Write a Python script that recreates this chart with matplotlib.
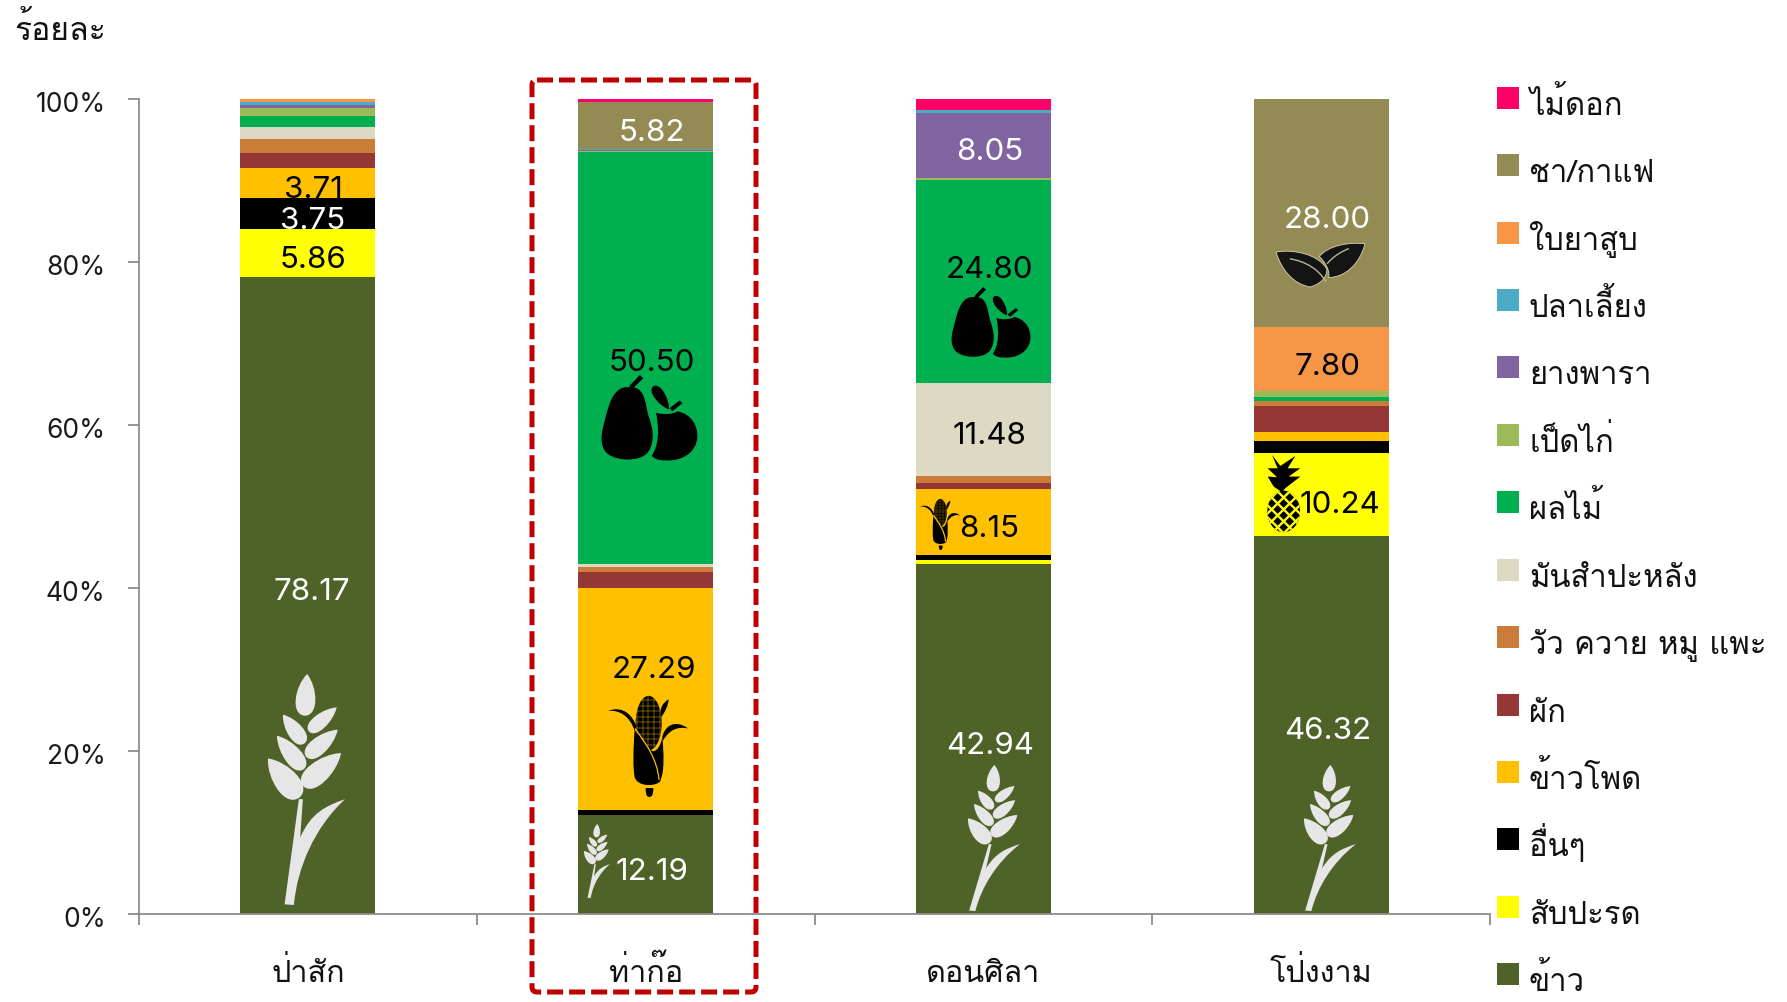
import matplotlib
matplotlib.use('Agg')
import logging
logging.getLogger('matplotlib.font_manager').setLevel(logging.ERROR)
import matplotlib.pyplot as plt
import numpy as np
from matplotlib.path import Path
from matplotlib.patches import PathPatch, Rectangle, Ellipse, FancyBboxPatch
from matplotlib.transforms import ScaledTranslation

THAI = ['Loma', 'Noto Sans Thai Looped', 'DejaVu Sans']
NUM = ['Inter', 'Liberation Sans', 'DejaVu Sans']

# ---- data ----
districts = ['ป่าสัก', 'ท่าก๊อ', 'ดอนศิลา', 'โป่งงาม']
series_names = ['ข้าว', 'สับปะรด', 'อื่นๆ', 'ข้าวโพด', 'ผัก', 'วัว ควาย หมู แพะ', 'มันสำปะหลัง',
                'ผลไม้', 'เป็ดไก่', 'ยางพารา', 'ปลาเลี้ยง', 'ใบยาสูบ', 'ชา/กาแฟ', 'ไม้ดอก']
series_colors = ['#4F6228', '#FFFF00', '#000000', '#FFC000', '#953735', '#CB7B3A', '#DDD9C3',
                 '#00B050', '#9BBB59', '#8064A2', '#4BACC6', '#F79646', '#948A54', '#FF0066']
rice      = [78.17, 12.19, 42.94, 46.32]
pineapple = [5.86, 0.00, 0.50, 10.24]
others    = [3.75, 0.53, 0.55, 1.40]
corn      = [3.71, 27.29, 8.15, 1.10]
veg       = [1.84, 1.88, 0.65, 3.23]
livestock = [1.76, 0.60, 0.90, 0.65]
cassava   = [1.47, 0.45, 11.48, 0.00]
fruit     = [1.30, 50.50, 24.80, 0.45]
poultry   = [0.94, 0.10, 0.25, 0.74]
rubber    = [0.40, 0.10, 8.05, 0.00]
fish      = [0.40, 0.14, 0.30, 0.00]
tobacco   = [0.40, 0.00, 0.03, 7.80]
tea       = [0.00, 5.82, 0.00, 28.00]
flowers   = [0.00, 0.30, 1.40, 0.07]
values = [rice, pineapple, others, corn, veg, livestock, cassava, fruit,
          poultry, rubber, fish, tobacco, tea, flowers]
yticks = [0, 20, 40, 60, 80, 100]

W, H = 1787, 1003
fig = plt.figure(figsize=(W / 100, H / 100), dpi=100, facecolor='white')
L, R, B, T = 139, 1490, 915, 99.5
ax = fig.add_axes([L / W, 1 - B / H, (R - L) / W, (B - T) / H])
x = np.arange(len(districts))
bottom = np.zeros(len(districts))
for name, vals, col in zip(series_names, values, series_colors):
    ax.bar(x, vals, 0.4, bottom=bottom, color=col, label=name, linewidth=0)
    bottom += np.array(vals)
ax.set_xlim(-0.5, 3.5)
ax.set_ylim(0, 100)
for s in ('top', 'right'):
    ax.spines[s].set_visible(False)
for s in ('left', 'bottom'):
    ax.spines[s].set_color('#8C8C8C')
    ax.spines[s].set_linewidth(1.3)
ax.set_yticks(yticks)
ax.set_yticklabels([f'{v}%' for v in yticks], family=NUM, fontsize=19, color='#1A1A1A')
ax.set_xticks(np.arange(-0.5, 4, 1))
ax.set_xticklabels([])
ax.set_xticks(x, minor=True)
ax.set_xticklabels(districts, minor=True, family=THAI, fontsize=22, color='#111111', va='baseline')
ax.tick_params(axis='both', which='major', length=8, width=1.3, color='#8C8C8C')
ax.tick_params(axis='y', pad=16)
ax.tick_params(axis='x', which='minor', length=0, pad=48)
down2 = ScaledTranslation(0, -2.5 / 100, fig.dpi_scale_trans)
for lab in ax.get_yticklabels():
    lab.set_transform(lab.get_transform() + down2)

# overlay in pixel coordinates
ov = fig.add_axes([0, 0, 1, 1], facecolor='none')
ov.set_xlim(0, W)
ov.set_ylim(H, 0)
ov.axis('off')

ov.text(14, 30, 'ร้อยละ', family=THAI, fontsize=23, color='#111111', va='center', ha='left')

# value labels: (series, district, centre px, colour)
labels = [(0, 0, 312, 592, 'white'), (1, 0, 313, 260, 'black'), (2, 0, 313, 221, 'white'), (3, 0, 313, 190, 'black'),
          (12, 1, 652, 133, 'white'), (7, 1, 652, 363, 'black'), (3, 1, 654, 670, 'black'), (0, 1, 652, 872, 'white'),
          (9, 2, 990, 152, 'white'), (7, 2, 989, 270, 'black'), (6, 2, 989, 436, 'black'), (3, 2, 989, 529, 'black'), (0, 2, 990, 746, 'white'),
          (12, 3, 1327, 220, 'white'), (11, 3, 1328, 367, 'black'), (1, 3, 1340, 505, 'black'), (0, 3, 1328, 731, 'white')]
for s, d, px, py, c in labels:
    ov.text(px, py, f'{values[s][d]:.2f}', family=NUM, fontsize=22.5, color=c, ha='center', va='center', zorder=6)

# legend
leg_tops = [88, 155, 223, 290, 357, 425, 492, 560, 627, 695, 762, 829, 897, 964]
for top, i in zip(leg_tops, range(len(series_names) - 1, -1, -1)):
    ov.add_patch(Rectangle((1497, top), 22, 22, facecolor=series_colors[i], edgecolor='none'))
    ov.text(1529, top + 27, series_names[i], family=THAI, fontsize=22.3, color='#111111', va='baseline', ha='left')

# highlight frame
ov.add_patch(FancyBboxPatch((536, 85), 216, 904, boxstyle='round,pad=4,rounding_size=5', fill=False,
                            edgecolor='#C00000', linewidth=3.6, linestyle=(0, (3.2, 1.2)), zorder=7))

# ---- icon helpers ----
def mapper(src, dst):
    sx0, sy0, sx1, sy1 = src
    dx0, dy0, dx1, dy1 = dst
    def f(p):
        p = np.asarray(p, float)
        return np.c_[dx0 + (p[:, 0] - sx0) / (sx1 - sx0) * (dx1 - dx0),
                     dy0 + (p[:, 1] - sy0) / (sy1 - sy0) * (dy1 - dy0)]
    return f

def bez(start, *curves):
    verts = [start]; codes = [Path.MOVETO]
    for c in curves:
        if len(c) == 3:
            verts += list(c); codes += [Path.CURVE4] * 3
        else:
            verts += [c[0]]; codes += [Path.LINETO]
    verts.append(start); codes.append(Path.CLOSEPOLY)
    return verts, codes

def draw(m, shape, color, z=5, **kw):
    v, c = shape
    pat = PathPatch(Path(m(v), c), facecolor=color, edgecolor=kw.pop('edgecolor', 'none'), zorder=z, **kw)
    ov.add_patch(pat)
    return pat

def tear(Tp, Bp, w):
    Tp = np.array(Tp, float); Bp = np.array(Bp, float)
    d = Bp - Tp
    n = np.array([-d[1], d[0]]) / np.hypot(*d)
    return bez(tuple(Tp),
               (tuple(Tp + .3 * d + .55 * w * n), tuple(Bp - .02 * d + .72 * w * n), tuple(Bp)),
               (tuple(Bp - .02 * d - .72 * w * n), tuple(Tp + .3 * d - .55 * w * n), tuple(Tp)))

def stroke(m, pts, color, lw, z):
    v = list(pts)
    c = [Path.MOVETO] + [Path.CURVE4] * (len(v) - 1)
    ov.add_patch(PathPatch(Path(m(v), c), fill=False, edgecolor=color, linewidth=lw, zorder=z, capstyle='round'))

def wheat(box, lean=0, color='#E6E6E6'):
    m = mapper((40, 30, 272, 722), box)
    grains = [((158, 30), (150, 155), 62), ((247, 130), (163, 202), 46), ((85, 152), (150, 238), 50),
              ((250, 197), (155, 278), 54), ((67, 215), (148, 315), 56), ((260, 267), (145, 365), 68),
              ((40, 283), (135, 400), 76)]
    for g in grains:
        draw(m, tear(*g), color)
    def lx(px, py):
        return (px - lean * max(py - 405, 0) / 317, py)
    draw(m, bez(lx(133, 405), [lx(145, 405)], [lx(137, 520)],
                (lx(170, 445), lx(215, 425), (272, 405)),
                (lx(180, 490), lx(128, 610), lx(118, 722)),
                [lx(90, 720)]), color)

def corn_icon(box, bg='#FFC000'):
    m = mapper((265, 470, 505, 775), box)
    scale = (box[2] - box[0]) / 240
    cc = m([(387, 552)])[0]
    cob = Ellipse(cc, 78 * scale, 165 * (box[3] - box[1]) / 305, facecolor='black', edgecolor='none', zorder=5)
    ov.add_patch(cob)
    for gx in np.arange(352, 425, 17):
        p = m([(gx, 470), (gx, 635)])
        ln, = ov.plot(p[:, 0], p[:, 1], color=bg, lw=0.95 * scale, zorder=5.1)
        ln.set_clip_path(cob)
    for gy in np.arange(482, 635, 17):
        p = m([(340, gy), (430, gy)])
        ln, = ov.plot(p[:, 0], p[:, 1], color=bg, lw=0.95 * scale, zorder=5.1)
        ln.set_clip_path(cob)
    draw(m, bez((345, 570), ((340, 640), (340, 690), (345, 715)), ((352, 742), (400, 745), (420, 730)),
                ((436, 700), (432, 640), (428, 590)), ((425, 620), (410, 640), (397, 636)),
                ((375, 620), (355, 590), (345, 570))), 'black', z=5.2)
    stroke(m, [(347, 570), (380, 615), (412, 660), (418, 722)], bg, 1.6 * max(scale, .55), 5.3)
    draw(m, bez((350, 562), ((340, 530), (310, 497), (265, 515)), ((300, 512), (330, 530), (345, 575))), 'black')
    draw(m, bez((428, 592), ((440, 550), (475, 545), (505, 568)), ((475, 562), (450, 570), (430, 605))), 'black')
    draw(m, bez((422, 532), ((420, 505), (430, 490), (447, 480)), ((445, 500), (438, 515), (424, 535))), 'black')
    draw(m, bez((378, 748), [(401, 748)], ((401, 765), (398, 775), (389, 775)), ((380, 775), (378, 765), (378, 748))), 'black')

def fruit_icon(box):
    m = mapper((38, 28, 322, 288), box)
    draw(m, bez((118, 65), ((75, 60), (60, 110), (50, 150)), ((40, 190), (28, 225), (45, 255)),
                ((62, 288), (150, 296), (175, 260)), ((195, 230), (190, 190), (175, 150)),
                ((165, 110), (165, 60), (118, 65))), 'black')
    draw(m, bez((118, 62), [(150, 28)], [(160, 38)], [(128, 70)]), 'black')
    draw(m, bez((198, 142), ((225, 150), (250, 145), (262, 138)), ((300, 145), (322, 180), (320, 215)),
                ((318, 265), (270, 290), (225, 286)), ((205, 287), (190, 280), (185, 272)),
                ((207, 240), (207, 190), (198, 142))), 'black')
    draw(m, bez((238, 128), [(268, 105)], [(276, 113)], [(246, 138)]), 'black')
    draw(m, tear((236, 132), (190, 62), 34), 'black')

def tea_icon(box):
    m = mapper((32, 28, 300, 158), box)
    dark, edge, vein = '#141414', '#C9C6A6', '#B7B493'
    draw(m, bez((300, 30), ((250, 25), (190, 35), (162, 68)), ((182, 85), (196, 115), (190, 130)),
                ((240, 130), (285, 90), (300, 30))), dark, edgecolor=edge, linewidth=0.7)
    draw(m, bez((32, 55), ((80, 45), (160, 60), (185, 105)), ((187, 130), (165, 150), (135, 158)),
                ((85, 150), (50, 110), (32, 55))), dark, edgecolor=edge, linewidth=0.7, z=5.1)
    stroke(m, [(75, 75), (120, 82), (160, 105), (182, 142)], vein, 1.0, 5.2)
    stroke(m, [(250, 45), (225, 55), (205, 68), (187, 88)], vein, 1.0, 5.2)

def pineapple_icon(box, bg='#FFFF00'):
    m = mapper((110, 225, 212, 457), box)
    draw(m, bez((125, 225), [(150, 258)], [(195, 228)], [(172, 265)], [(210, 265)], [(175, 290)], [(210, 290)],
                [(165, 325)], [(155, 337)], [(130, 320)], [(112, 290)], [(140, 292)], [(112, 265)], [(142, 265)]), 'black')
    c = m([(160, 395)])[0]
    sx = (box[2] - box[0]) / 102
    sy = (box[3] - box[1]) / 232
    body = Ellipse(c, 98 * sx, 125 * sy, facecolor='black', edgecolor='none', zorder=5)
    ov.add_patch(body)
    for off in np.arange(-150, 151, 36):
        for sgn in (1, -1):
            p = m([(160 - 80, 395 + off - sgn * 80), (160 + 80, 395 + off + sgn * 80)])
            ln, = ov.plot(p[:, 0], p[:, 1], color=bg, lw=1.7, zorder=5.1)
            ln.set_clip_path(body)

wheat((268, 675, 345, 906))
wheat((584, 825, 610, 899), lean=18)
wheat((968, 766, 1020, 912), lean=45)
wheat((1304, 766, 1356, 912), lean=45)
corn_icon((608, 697, 688, 798))
corn_icon((920, 500, 960, 551))
fruit_icon((602, 376, 698, 462))
fruit_icon((952, 288, 1031, 359))
tea_icon((1276, 244, 1365, 288))
pineapple_icon((1267, 456, 1301, 533))
ov.set_xlim(0, W)
ov.set_ylim(H, 0)

fig.savefig('out.png', dpi=100)
